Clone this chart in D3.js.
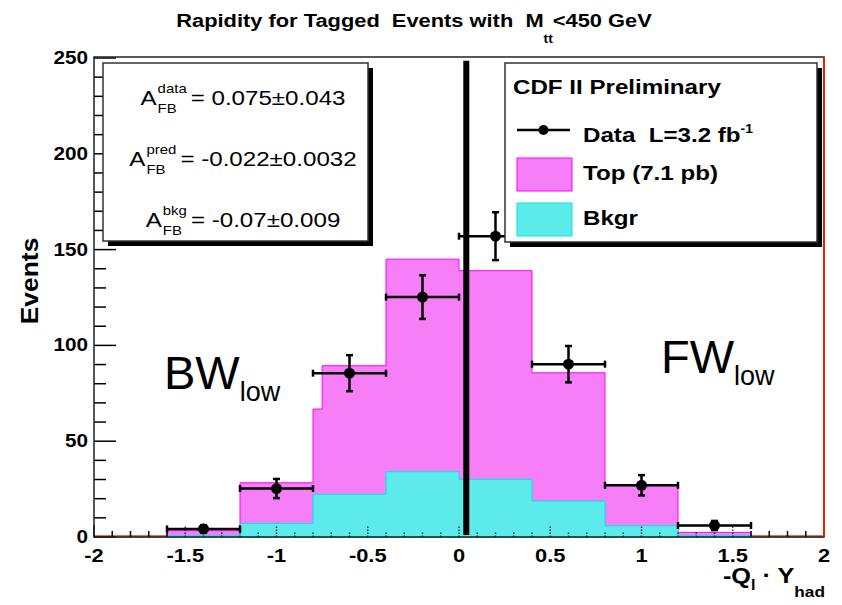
<!DOCTYPE html>
<html>
<head>
<meta charset="utf-8">
<script src="https://cdn.jsdelivr.net/npm/d3@7"></script>
<style>
  body { margin: 0; background: #fff; }
  svg { font-family: "Liberation Sans", Arial, Helvetica, sans-serif; }
  text { white-space: pre; }
</style>
</head>
<body>
<svg id="chart" width="842" height="605"></svg>
<script>
// bin edges of the histograms
const binEdges = [-1.6, -1.2, -0.8, -0.4, 0, 0.4, 0.8, 1.2, 1.6];
// top (signal + bkg) histogram, has a small sliver step at -0.8
const topEdges = [-1.6, -1.2, -0.8, -0.75, -0.4, 0, 0.4, 0.8, 1.2, 1.6];
const topValues = [3.3, 28.3, 66.8, 89.4, 145, 139, 85.7, 26.8, 2.4];
// background histogram
const bkgValues = [0.7, 7.1, 22.3, 34.1, 30.1, 18.8, 5.9, 0.7];
// data points
const dataX = [-1.4, -1, -0.6, -0.2, 0.2, 0.6, 1, 1.4];
const dataY = [4.2, 25.3, 85.5, 125.2, 157, 90.2, 27, 6];
const dataErr = [2, 5, 9.4, 11.4, 12.5, 9.5, 5.3, 2.4];
// cut line
const cutX = 0.04;
// ticks
const xMajor = [-2, -1.5, -1, -0.5, 0, 0.5, 1, 1.5, 2];
const xTickLabels = ['-2', '-1.5', '-1', '-0.5', '0', '0.5', '1', '1.5', '2'];
const yMajor = [0, 50, 100, 150, 200, 250];
// asymmetry texts
const asymLabels = ['data', 'pred', 'bkg'];
const asymValues = ['= 0.075\u00b10.043', '= -0.022\u00b10.0032', '= -0.07\u00b10.009'];

const svg = d3.select('#chart');
const W = 842, H = 605;
const frame = { left: 94, right: 824, top: 57, bottom: 537 };
const sx = 1.15; // horizontal stretch of the text
const pink = '#f67ef6', cyan = '#5ceaea';

const x = d3.scaleLinear().domain([-2, 2]).range([frame.left, frame.right]);
const y = d3.scaleLinear().domain([0, 250]).range([frame.bottom, frame.top + 1]);

// text helper, stretched like the original
const label = (g, px, py, str, size, weight, anchor) =>
  g.append('text')
    .attr('transform', `translate(${px},${py}) scale(${sx},1)`)
    .attr('font-size', size)
    .attr('font-weight', weight || 'normal')
    .attr('text-anchor', anchor || 'start')
    .text(str);

svg.append('rect').attr('width', W).attr('height', H).attr('fill', '#fff');

// histograms
const stepArea = (edges, vals) => {
  const pts = edges.map((e, i) => [e, i < vals.length ? vals[i] : vals[vals.length - 1]]);
  return d3.area().x((d) => x(d[0])).y0(y(0)).y1((d) => y(d[1])).curve(d3.curveStepAfter)(pts);
};
svg.append('path').attr('d', stepArea(topEdges, topValues))
  .attr('fill', pink).attr('stroke', '#ff00ff').attr('stroke-width', 1);
svg.append('path').attr('d', stepArea(binEdges, bkgValues))
  .attr('fill', cyan).attr('stroke', '#00e5e5').attr('stroke-width', 1);

// zero lines outside the histogram range
svg.append('line').attr('x1', x(-2)).attr('x2', x(-1.6)).attr('y1', y(0) - 1).attr('y2', y(0) - 1)
  .attr('stroke', '#ff3010').attr('stroke-width', 1.5);
svg.append('line').attr('x1', x(1.6)).attr('x2', x(2)).attr('y1', y(0) - 1).attr('y2', y(0) - 1)
  .attr('stroke', '#ff3010').attr('stroke-width', 1.5);
svg.append('line').attr('x1', x(-2)).attr('x2', x(2)).attr('y1', y(0) + 0.5).attr('y2', y(0) + 0.5)
  .attr('stroke', '#00e0e0').attr('stroke-width', 1);

// ticks, inward, dotted where they cross the fills
const inFill = (v) => v > -1.6 && v < 1.6;
const xMinor = d3.range(-20, 21).map((d) => d / 10);
const yMinor = d3.range(0, 251, 10);
const ticks = svg.append('g').attr('stroke', '#000').attr('stroke-width', 1.5);
ticks.selectAll('.xt').data(xMinor).join('line')
  .attr('x1', (d) => x(d)).attr('x2', (d) => x(d))
  .attr('y1', frame.bottom)
  .attr('y2', (d) => frame.bottom - (xMajor.some((m) => Math.abs(m - d) < 1e-9) ? 12 : 6))
  .attr('stroke-dasharray', (d) => (inFill(d) ? '1.5,1.5' : null))
  .attr('stroke-opacity', (d) => (inFill(d) ? 0.75 : 1));
ticks.selectAll('.yt').data(yMinor).join('line')
  .attr('x1', frame.left)
  .attr('x2', (d) => frame.left + (d % 50 === 0 ? 22 : 12))
  .attr('y1', (d) => y(d)).attr('y2', (d) => y(d));

// frame
svg.append('rect')
  .attr('x', frame.left).attr('y', frame.top)
  .attr('width', frame.right - frame.left).attr('height', frame.bottom - frame.top)
  .attr('fill', 'none').attr('stroke', '#222').attr('stroke-width', 1.5);
svg.append('line').attr('x1', frame.right).attr('x2', frame.right)
  .attr('y1', frame.top).attr('y2', frame.bottom)
  .attr('stroke', '#e02000').attr('stroke-width', 2);

// cut line
svg.append('line').attr('x1', x(cutX)).attr('x2', x(cutX))
  .attr('y1', y(248.5)).attr('y2', y(1))
  .attr('stroke', '#000').attr('stroke-width', 6);

// data points with errors
const halfBin = 0.2;
const pts = svg.append('g').attr('stroke', '#000').attr('stroke-width', 2.5);
dataX.forEach((dx, i) => {
  const cx = x(dx), cy = y(dataY[i]);
  const x0 = x(dx - halfBin), x1 = x(dx + halfBin);
  const yt = y(dataY[i] + dataErr[i]), yb = y(dataY[i] - dataErr[i]);
  pts.append('line').attr('x1', x0).attr('x2', x1).attr('y1', cy).attr('y2', cy);
  pts.append('line').attr('x1', x0).attr('x2', x0).attr('y1', cy - 3.5).attr('y2', cy + 3.5);
  pts.append('line').attr('x1', x1).attr('x2', x1).attr('y1', cy - 3.5).attr('y2', cy + 3.5);
  pts.append('line').attr('x1', cx).attr('x2', cx).attr('y1', yt).attr('y2', yb);
  pts.append('line').attr('x1', cx - 3.5).attr('x2', cx + 3.5).attr('y1', yt).attr('y2', yt);
  pts.append('line').attr('x1', cx - 3.5).attr('x2', cx + 3.5).attr('y1', yb).attr('y2', yb);
  svg.append('circle').attr('cx', cx).attr('cy', cy).attr('r', 5.5).attr('fill', '#000');
});

// tick labels
xMajor.forEach((v, i) => label(svg, x(v), 562, xTickLabels[i], 19, 'bold', 'middle'));
yMajor.forEach((v) => label(svg, 88, y(v) + 6, String(v), 18, 'bold', 'end'));

// axis titles
svg.append('text')
  .attr('transform', `translate(38,281) rotate(-90) scale(${sx},1)`)
  .attr('font-size', 23).attr('font-weight', 'bold').attr('text-anchor', 'middle')
  .text('Events');
const xt = svg.append('text')
  .attr('transform', `translate(${frame.right + 1},583) scale(${sx},1)`)
  .attr('font-size', 22).attr('font-weight', 'bold').attr('text-anchor', 'end');
xt.append('tspan').text('-Q');
xt.append('tspan').attr('font-size', 14).attr('dy', 7).text('l');
xt.append('tspan').attr('dy', -7).text(' \u00b7 Y');
xt.append('tspan').attr('font-size', 15).attr('dy', 14).text('had');

// title
const tt = svg.append('text')
  .attr('transform', `translate(414,27) scale(${sx},1)`)
  .attr('font-size', 19).attr('font-weight', 'bold').attr('text-anchor', 'middle');
tt.append('tspan').text('Rapidity for Tagged  Events with  M');
tt.append('tspan').attr('font-size', 12).attr('dy', 16).text('tt');
tt.append('tspan').attr('dy', -16).text('<450 GeV');

// boxes with shadow
const box = (x0, y0, x1, y1) => {
  svg.append('rect').attr('x', x0 + 5).attr('y', y0 + 5).attr('width', x1 - x0).attr('height', y1 - y0)
    .attr('fill', '#000');
  svg.append('rect').attr('x', x0).attr('y', y0).attr('width', x1 - x0).attr('height', y1 - y0)
    .attr('fill', '#fff').attr('stroke', '#333').attr('stroke-width', 1.5);
};

// asymmetry box
box(103, 63, 368, 241);
asymLabels.forEach((s, i) => {
  const g = svg.append('g');
  const by = 105 + i * 61;
  const a = label(g, 0, by, 'A', 21);
  const wa = a.node().getComputedTextLength() * sx;
  const sup = label(g, wa + 1, by - 12, s, 13);
  const sub = label(g, wa + 1, by + 8, 'FB', 13);
  const ws = Math.max(sup.node().getComputedTextLength(), sub.node().getComputedTextLength()) * sx;
  const rest = label(g, wa + ws + 5, by, asymValues[i], 21);
  const total = wa + ws + 5 + rest.node().getComputedTextLength() * sx;
  g.attr('transform', `translate(${243 - total / 2},0)`);
});

// legend box
box(505, 63, 817, 242);
label(svg, 513, 94, 'CDF II Preliminary', 21, 'bold');
svg.append('line').attr('x1', 517).attr('x2', 570).attr('y1', 130).attr('y2', 130)
  .attr('stroke', '#000').attr('stroke-width', 2.5);
svg.append('circle').attr('cx', 543.5).attr('cy', 130).attr('r', 5).attr('fill', '#000');
const dl = label(svg, 583, 142, 'Data  L=3.2 fb', 21, 'bold');
dl.append('tspan').attr('font-size', 12).attr('dy', -9).text('-1');
svg.append('rect').attr('x', 517).attr('y', 158).attr('width', 55).attr('height', 33)
  .attr('fill', pink).attr('stroke', '#ff00ff').attr('stroke-width', 1);
label(svg, 583, 180, 'Top (7.1 pb)', 21, 'bold');
svg.append('rect').attr('x', 517).attr('y', 203).attr('width', 55).attr('height', 33)
  .attr('fill', cyan).attr('stroke', '#00e5e5').attr('stroke-width', 1);
label(svg, 583, 225, 'Bkgr', 21, 'bold');

// region labels
const region = (px, py, main) => {
  const t = svg.append('text').attr('transform', `translate(${px},${py})`).attr('font-size', 47);
  t.append('tspan').text(main);
  t.append('tspan').attr('font-size', 27).attr('dy', 12).text('low');
};
region(164, 389, 'BW');
region(661, 373, 'FW');
</script>
</body>
</html>
